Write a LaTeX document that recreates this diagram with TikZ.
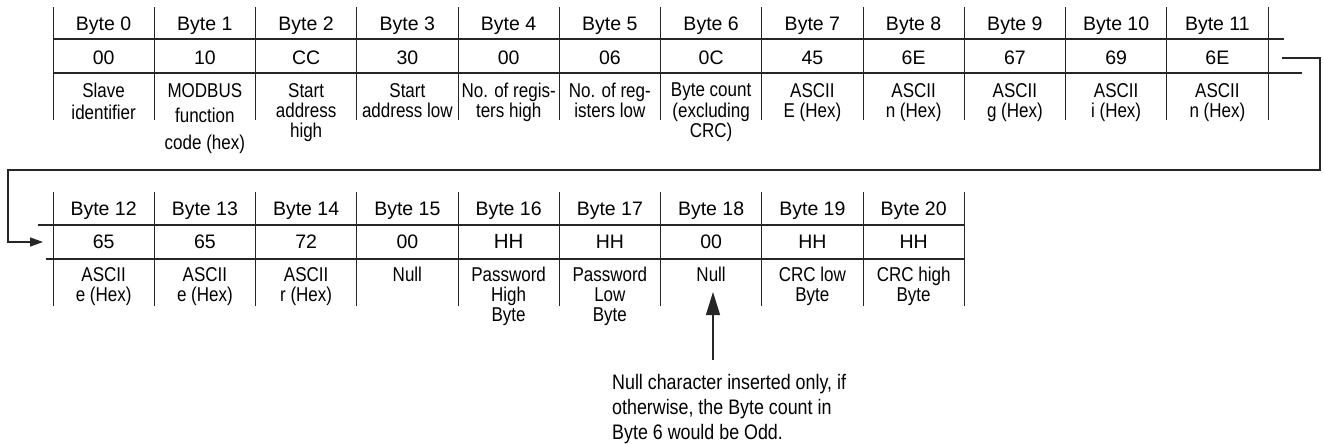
\documentclass[tikz,border=0pt]{standalone}
\usepackage{fontspec}
\setmainfont{Liberation Sans}
\newfontfamily\narrowfont{Liberation Sans}[FakeStretch=0.85]
\usetikzlibrary{arrows.meta}
\begin{document}
\begin{tikzpicture}[x=1pt,y=-1pt,
  hdr/.style={inner sep=0pt, anchor=base, font=\fontsize{19.5}{22}\selectfont},
  val/.style={inner sep=0pt, anchor=base, font=\fontsize{19.5}{22}\selectfont},
  desc/.style={inner sep=0pt, anchor=north, align=center, font=\narrowfont\fontsize{20}{20}\selectfont},
  note/.style={inner sep=0pt, anchor=north west, align=left, font=\narrowfont\fontsize{21}{25}\selectfont},
  vline/.style={line width=0.9pt, draw=black!85},
  hline/.style={line width=1.6pt, draw=black!85},
  conn/.style={line width=1.6pt, draw=black!85},
  arrowline/.style={line width=1.3pt, draw=black!85},
]
\useasboundingbox (0,0) rectangle (1324,444);

% ---- top table grid
\foreach \k in {0,...,12} \draw[vline] ({53+101.25*\k},7) -- ({53+101.25*\k},120);
\draw[hline] (53,39) -- (1284,39);
\draw[hline] (53,73) -- (1302,73);

% ---- bottom table grid
\foreach \k in {0,...,9} \draw[vline] ({53+101.25*\k},192) -- ({53+101.25*\k},306);
\draw[hline] (38,225) -- (965,225);
\draw[hline] (46,259) -- (965,259);

% ---- headers
\foreach \k in {0,...,11} \node[hdr] (h\k) at ({53+101.25*(\k+0.5)},30.5) {Byte \k};
\foreach \k in {12,...,20} \node[hdr] (h\k) at ({53+101.25*(\k-12+0.5)},215) {Byte \k};

% ---- values
\foreach \k/\v in {0/00,1/10,2/CC,3/30,4/00,5/06,6/0C,7/45,8/6E,9/67,10/69,11/6E}
  \node[val] (v\k) at ({53+101.25*(\k+0.5)},64.5) {\v};
\foreach \k/\v in {12/65,13/65,14/72,15/00,17/HH,18/00,19/HH,20/HH}
  \node[val] (v\k) at ({53+101.25*(\k-12+0.5)},248) {\v};
\node[val, font=\fontsize{20.5}{22}\selectfont] (v16) at ({53+101.25*4.5},248) {HH};

% ---- descriptions, top
\node[desc] (d0)  at ({53+101.25*0.5},83) {Slave\\[2pt]identifier};
\node[desc] (d1)  at ({53+101.25*1.5},83) {MODBUS\\[5pt]function\\[7pt]code (hex)};
\node[desc] (d2)  at ({53+101.25*2.5},83) {Start\\address\\high};
\node[desc] (d3)  at ({53+101.25*3.5},83) {Start\\address low};
\node[desc] (d4)  at ({53+101.25*4.5},83) {No. of regis-\\ters high};
\node[desc] (d5)  at ({53+101.25*5.5},83) {No. of reg-\\isters low};
\node[desc] (d6)  at ({53+101.25*6.5},83) {Byte count\\[1pt](excluding\\CRC)};
\node[desc] (d7)  at ({53+101.25*7.5},83) {ASCII\\E (Hex)};
\node[desc] (d8)  at ({53+101.25*8.5},83) {ASCII\\n (Hex)};
\node[desc] (d9)  at ({53+101.25*9.5},83) {ASCII\\g (Hex)};
\node[desc] (d10) at ({53+101.25*10.5},83) {ASCII\\i (Hex)};
\node[desc] (d11) at ({53+101.25*11.5},83) {ASCII\\n (Hex)};

% ---- descriptions, bottom
\node[desc] (d12) at ({53+101.25*0.5},267) {ASCII\\e (Hex)};
\node[desc] (d13) at ({53+101.25*1.5},267) {ASCII\\e (Hex)};
\node[desc] (d14) at ({53+101.25*2.5},267) {ASCII\\r (Hex)};
\node[desc] (d15) at ({53+101.25*3.5},267) {Null};
\node[desc] (d16) at ({53+101.25*4.5},267) {Password\\High\\Byte};
\node[desc] (d17) at ({53+101.25*5.5},267) {Password\\Low\\Byte};
\node[desc] (d18) at ({53+101.25*6.5},267) {Null};
\node[desc] (d19) at ({53+101.25*7.5},267) {CRC low\\Byte};
\node[desc] (d20) at ({53+101.25*8.5},267) {CRC high\\Byte};

% ---- wrap connector
\coordinate (wrapA) at (1282,58);
\coordinate (wrapB) at (43,242);
\draw[conn, -{Triangle[length=13pt,width=9pt]}]
  (wrapA) -- (1320,58) -- (1320,170) -- (8,170) -- (8,242) -- (wrapB);

% ---- note
\node[note] (note) at (612,374) {Null character inserted only, if\\otherwise, the Byte count in\\Byte 6 would be Odd.};
\coordinate (noteBase) at (713,360);
\coordinate (noteTip) at (713,292);
\draw[arrowline, -{Triangle[length=23pt,width=14pt]}] (noteBase) -- (noteTip);
\end{tikzpicture}
\end{document}
